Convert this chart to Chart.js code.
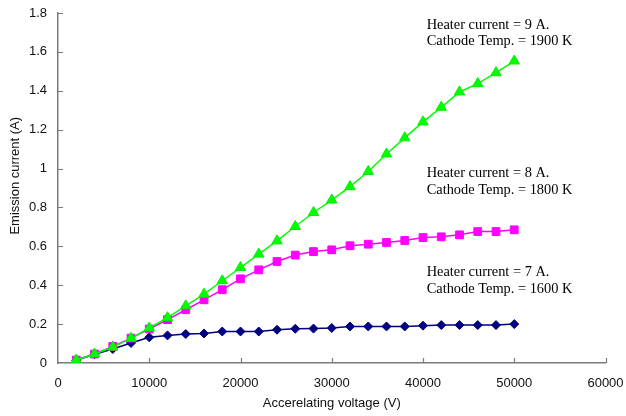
<!DOCTYPE html>
<html>
<head>
<meta charset="utf-8">
<script src="https://cdn.jsdelivr.net/npm/chart.js@4/dist/chart.umd.min.js"></script>
<style>
  html, body { margin: 0; padding: 0; background: #ffffff; }
  #wrap { width: 626px; height: 416px; position: relative; }
</style>
</head>
<body>
<div id="wrap"><canvas id="chart" width="626" height="416"></canvas></div>
<script>
// Accelerating voltage (V) at each measurement
const voltage = [2000, 4000, 6000, 8000, 10000, 12000, 14000, 16000, 18000, 20000,
                 22000, 24000, 26000, 28000, 30000, 32000, 34000, 36000, 38000, 40000,
                 42000, 44000, 46000, 48000, 50000];

// Emission current (A) for each heater setting
const current9A = [0.015, 0.046, 0.082, 0.127, 0.180, 0.233, 0.294, 0.354, 0.423, 0.491,
                   0.560, 0.628, 0.702, 0.774, 0.838, 0.907, 0.985, 1.075, 1.158, 1.240,
                   1.315, 1.394, 1.437, 1.493, 1.553];
const current8A = [0.015, 0.046, 0.085, 0.128, 0.175, 0.223, 0.274, 0.325, 0.377, 0.433,
                   0.479, 0.522, 0.555, 0.573, 0.582, 0.603, 0.611, 0.620, 0.630, 0.645,
                   0.649, 0.659, 0.676, 0.676, 0.685];
const current7A = [0.014, 0.045, 0.072, 0.103, 0.132, 0.142, 0.149, 0.152, 0.162, 0.162,
                   0.162, 0.171, 0.176, 0.177, 0.180, 0.188, 0.188, 0.188, 0.188, 0.192,
                   0.195, 0.195, 0.195, 0.195, 0.200];

// Axis tick labels
const xTickLabels = ['0', '10000', '20000', '30000', '40000', '50000', '60000'];
const yTickLabels = ['0', '0.2', '0.4', '0.6', '0.8', '1', '1.2', '1.4', '1.6', '1.8'];

// Axis titles
const xTitle = 'Accerelating voltage (V)';
const yTitle = 'Emission current (A)';

// Condition notes next to each curve
const noteLines = [
  ['Heater current = 9 A.', 'Cathode Temp. = 1900 K'],
  ['Heater current = 8 A.', 'Cathode Temp. = 1800 K'],
  ['Heater current = 7 A.', 'Cathode Temp. = 1600 K']
];
// anchor of each note (left edge, centre of first line) in data units
const noteAnchorX = [40400, 40400, 40400];
const noteAnchorY = [1.738, 0.976, 0.466];

const AXIS_COLOR = '#7a7a7a';
const TEXT_COLOR = '#111111';
const SANS = '"Liberation Sans", Arial, sans-serif';
const SERIF = '"Liberation Serif", "Times New Roman", serif';

const toXY = (ys) => ys.map((y, i) => ({ x: voltage[i], y: y }));

// short tick marks pointing into the plot area
const innerTicks = {
  id: 'innerTicks',
  afterDatasetsDraw(chart) {
    const { ctx } = chart;
    const xs = chart.scales.x, ys = chart.scales.y;
    const len = 5;
    ctx.save();
    ctx.strokeStyle = AXIS_COLOR;
    ctx.lineWidth = 1.2;
    ctx.beginPath();
    xs.ticks.forEach((t, i) => {
      if (i === 0) return;
      const px = Math.round(xs.getPixelForTick(i)) + 0.5;
      ctx.moveTo(px, ys.bottom);
      ctx.lineTo(px, ys.bottom - len);
    });
    ys.ticks.forEach((t, i) => {
      if (i === 0) return;
      const py = Math.round(ys.getPixelForTick(i)) + 0.5;
      ctx.moveTo(xs.left, py);
      ctx.lineTo(xs.left + len, py);
    });
    ctx.stroke();
    ctx.restore();
  }
};

// axis titles and condition notes
const textLayer = {
  id: 'textLayer',
  afterDraw(chart) {
    const { ctx, chartArea } = chart;
    const xs = chart.scales.x, ys = chart.scales.y;
    ctx.save();
    ctx.fillStyle = TEXT_COLOR;
    ctx.font = '13px ' + SANS;
    ctx.textAlign = 'center';
    ctx.textBaseline = 'middle';
    ctx.fillText(xTitle, (chartArea.left + chartArea.right) / 2, chartArea.bottom + 40);
    ctx.translate(15, chartArea.top + (chartArea.bottom - chartArea.top) * 0.465);
    ctx.rotate(-Math.PI / 2);
    ctx.fillText(yTitle, 0, 0);
    ctx.restore();

    ctx.save();
    ctx.fillStyle = '#000000';
    ctx.font = '14.4px ' + SERIF;
    ctx.textAlign = 'left';
    ctx.textBaseline = 'middle';
    noteLines.forEach((lines, k) => {
      const px = xs.getPixelForValue(noteAnchorX[k]);
      const py = ys.getPixelForValue(noteAnchorY[k]);
      lines.forEach((line, j) => ctx.fillText(line, px, py + j * 16.5));
    });
    ctx.restore();
  }
};

// keep the plot box fixed: drop the extra room the scales reserve for edge labels
function fixXBox(scale) {
  scale.height = 53;
  scale.paddingLeft = 0;
  scale.paddingRight = 0;
}
function fixYBox(scale) {
  scale.width = 58;
  scale.paddingTop = 0;
  scale.paddingBottom = 0;
}

new Chart(document.getElementById('chart'), {
  type: 'line',
  data: {
    datasets: [
      {
        label: '9 A',
        data: toXY(current9A),
        borderColor: '#00ff00',
        backgroundColor: '#00ff00',
        borderWidth: 1.5,
        pointStyle: 'triangle',
        pointRadius: 6,
        pointBorderWidth: 1,
        pointBorderColor: '#00ee00',
        tension: 0
      },
      {
        label: '8 A',
        data: toXY(current8A),
        borderColor: '#ff00ff',
        backgroundColor: '#ff00ff',
        borderWidth: 1.5,
        pointStyle: 'rect',
        pointRadius: 5.5,
        pointBorderWidth: 1,
        pointBorderColor: '#ff00ff',
        tension: 0
      },
      {
        label: '7 A',
        data: toXY(current7A),
        borderColor: '#000080',
        backgroundColor: '#000080',
        borderWidth: 1.5,
        pointStyle: 'rectRot',
        pointRadius: 4.5,
        pointBorderWidth: 1,
        pointBorderColor: '#000080',
        tension: 0
      }
    ]
  },
  options: {
    responsive: false,
    animation: false,
    devicePixelRatio: 1,
    layout: { padding: { left: 0, top: 13, right: 20.5, bottom: 0 } },
    plugins: {
      legend: { display: false },
      tooltip: { enabled: false }
    },
    scales: {
      x: {
        type: 'linear',
        min: 0,
        max: 60000,
        afterFit: fixXBox,
        border: { display: true, color: AXIS_COLOR, width: 1.5 },
        grid: { display: true, drawOnChartArea: false, drawTicks: false },
        ticks: {
          stepSize: 10000,
          padding: 13,
          color: TEXT_COLOR,
          font: { family: SANS, size: 13 },
          maxRotation: 0,
          autoSkip: false,
          callback: (v, i) => xTickLabels[i]
        }
      },
      y: {
        type: 'linear',
        min: 0,
        max: 1.8,
        afterFit: fixYBox,
        border: { display: true, color: AXIS_COLOR, width: 1.5 },
        grid: { display: true, drawOnChartArea: false, drawTicks: false },
        ticks: {
          stepSize: 0.2,
          padding: 11,
          color: TEXT_COLOR,
          font: { family: SANS, size: 13 },
          autoSkip: false,
          callback: (v, i) => yTickLabels[i]
        }
      }
    }
  },
  plugins: [innerTicks, textLayer]
});
</script>
</body>
</html>
